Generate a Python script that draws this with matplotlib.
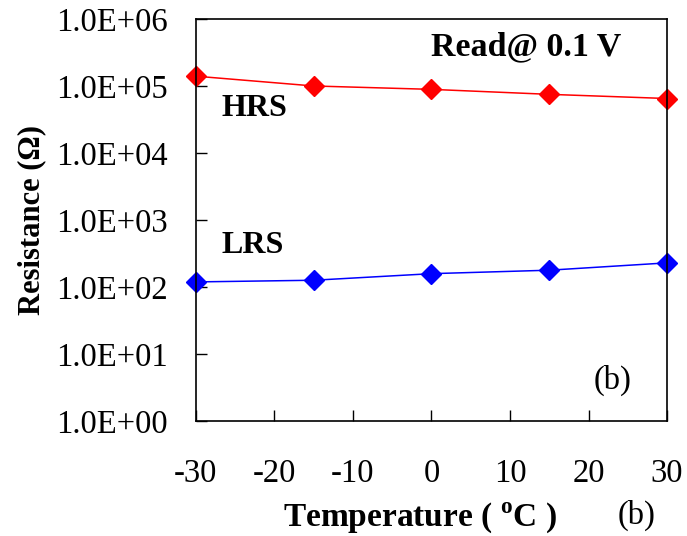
import matplotlib
matplotlib.use("Agg")
import matplotlib.pyplot as plt

plt.rcParams["font.family"] = ["Liberation Serif", "DejaVu Serif"]
plt.rcParams["mathtext.fontset"] = "custom"
plt.rcParams["mathtext.rm"] = "Liberation Serif"
plt.rcParams["mathtext.bf"] = "Liberation Serif:bold"

# Temperature (C)
temps = [-30, -15, 0, 15, 30]

# Resistance (ohm) read at 0.1 V
hrs = [1.40e5, 1.00e5, 8.9e4, 7.5e4, 6.5e4]
lrs = [119, 126, 158, 178, 229]

xticks = [-30, -20, -10, 0, 10, 20, 30]
yticks = [1e0, 1e1, 1e2, 1e3, 1e4, 1e5, 1e6]
ytick_labels = ["1.0E+00", "1.0E+01", "1.0E+02", "1.0E+03", "1.0E+04", "1.0E+05", "1.0E+06"]

fig = plt.figure(figsize=(6.87, 5.36), dpi=100)
ax = fig.add_axes([0.285, 0.2146, 0.686, 0.75])

ax.plot(temps, hrs, color="#ff0000", lw=1.1, marker="D", ms=10.5, clip_on=False)
ax.plot(temps, lrs, color="#0000ff", lw=1.1, marker="D", ms=10.5, clip_on=False)

ax.set_yscale("log")
ax.set_xlim(-30, 30)
ax.set_ylim(1, 1e6)
ax.set_xticks(xticks)
ax.set_xticklabels([str(t) for t in xticks])
ax.set_yticks(yticks)
ax.set_yticklabels(ytick_labels)
ax.minorticks_off()

ax.tick_params(axis="both", direction="in", length=8, width=1, labelsize=23.5)
ax.tick_params(axis="y", pad=20)
ax.tick_params(axis="x", pad=27)
for s in ax.spines.values():
    s.set_linewidth(1.2)

ax.set_ylabel("Resistance (\u03a9)", fontsize=22, fontweight="bold", labelpad=7)
ax.set_xlabel(r"Temperature ( $^{\mathbf{o}}$C )", fontsize=24, fontweight="bold", labelpad=8)
ax.xaxis.label.set_x(0.476)

ax.text(-26.7, 7.5e4, "HRS", fontsize=23, fontweight="bold", va="top")
ax.text(-26.7, 6.8e2, "LRS", fontsize=23, fontweight="bold", va="top")
ax.text(0.70, 0.93, "Read@ 0.1 V", transform=ax.transAxes, fontsize=24.5,
        fontweight="bold", ha="center", va="center")
ax.text(0.885, 0.10, "(b)", transform=ax.transAxes, fontsize=23.5, ha="center", va="center")
fig.text(0.927, 0.039, "(b)", fontsize=23.5, ha="center", va="center")

fig.savefig("out.png", dpi=100)
